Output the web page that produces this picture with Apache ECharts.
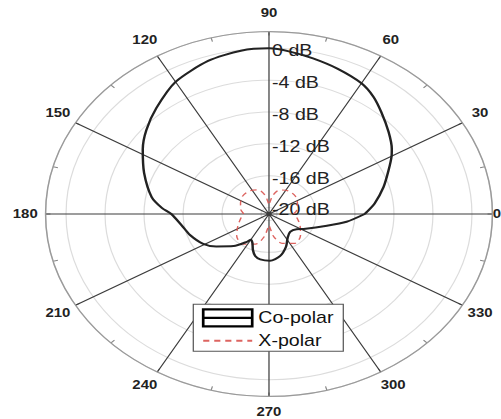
<!DOCTYPE html>
<html><head><meta charset="utf-8">
<script src="https://cdn.jsdelivr.net/npm/echarts@6/dist/echarts.min.js"></script>
<style>
html,body{margin:0;padding:0;background:#fff;overflow:hidden;}
#wrap{width:501px;height:419px;position:relative;overflow:hidden;background:#fff;}
#main{position:absolute;left:0;top:0;width:409px;height:419px;transform-origin:0 0;transform:scaleX(1.2249);}
</style></head><body><div id="wrap"><div id="main"></div></div>
<script>
// ---- data ----
const angleTicks = [0,30,60,90,120,150,180,210,240,270,300,330];
const dbTicks = [0,-4,-8,-12,-16,-20];
const coAngles = [0,7,16,24,30,33,40,48,54,60,69,77,84,90,98,108,120,131,140,148,158,170,176,180,189,198,209,217,228,237,240,245,250,255,261,271,282,293,303,314,326,332,346,353,360];
const coDb     = [-11.0,-9.9,-8.6,-7.4,-6.3,-5.8,-4.8,-3.6,-2.6,-1.85,-1.25,-0.75,-0.3,0,-0.1,-0.6,-1.65,-3.2,-4.4,-5.55,-7.0,-8.6,-9.8,-10.8,-11.75,-12.3,-13.1,-14.05,-15.4,-16.65,-17.1,-16.8,-16.0,-15.35,-15.05,-14.95,-15.4,-16.35,-17.3,-17.7,-17.4,-16.8,-14.7,-12.8,-11.0];
const xAngles = [0,10,25,40,55,70,80,86,90,94,100,110,125,140,155,170,180,190,205,220,235,250,260,266,270,274,280,290,305,320,335,350,360];
const xDb     = [-18.3,-17.9,-17.6,-17.3,-17.3,-17.6,-18.4,-19.3,-19.7,-19.3,-18.4,-17.6,-17.3,-17.3,-17.6,-17.9,-18.2,-17.9,-17.3,-16.5,-16.2,-16.8,-17.9,-19.0,-19.4,-19.0,-17.9,-16.9,-16.3,-16.6,-17.3,-17.9,-18.3];
const seriesNames = ['Co-polar','X-polar'];

// ---- layout / style ----
const CX = 219.6, CY = 214, R = 182.4, RIN = 6.5;
const FONT = 'Liberation Sans, Arial, sans-serif';
const M = 0, RTH = 199, RTV_UP = 201.5, RTV_DN = 198, LH = 12, DW = 6.8;
const rich = {};
angleTicks.forEach(a => {
  const t = a*Math.PI/180, cs = Math.cos(t), sn = Math.sin(t);
  const rtv = sn > 0 ? RTV_UP : RTV_DN;
  const Ax = (R+M)*cs, Ay = -(R+M)*sn, cx = RTH*cs, cy = -rtv*sn;
  const w = String(a).length*DW;
  const hal = Math.abs(Ax)/R < 0.3 ? 'center' : (Ax>0?'left':'right');
  const val = Math.abs(Ay)/R < 0.3 ? 'middle' : (Ay>0?'top':'bottom');
  let pt=0,pr=0,pb=0,pl=0;
  if (hal==='left') pl = Math.max(0, cx - w/2 - Ax);
  if (hal==='right') pr = Math.max(0, Ax - w/2 - cx);
  // vertical token padding is split around the centred text, so it is doubled
  if (val==='bottom') pb = 2*Math.max(0, Ay - LH/2 - cy);
  if (val==='top') pt = 2*Math.max(0, cy - LH/2 - Ay);
  if (a === 0) { pl = 0.3; }
  rich['a'+a] = {padding:[pt,pr,pb,pl], fontSize:12.2, fontWeight:'bold', fontFamily:FONT, color:'#222', lineHeight:LH};
});

const coData = coAngles.map((a,i)=>[coDb[i], a]);
const xData = xAngles.map((a,i)=>[xDb[i], a]);

const chart = echarts.init(document.getElementById('main'), null, {renderer:'svg'});
chart.setOption({
  animation:false,
  backgroundColor:'#fff',
  polar:[
    {center:[CX,CY], radius:[0,R]},
    {center:[CX,CY], radius:[RIN,R]},
    {center:[CX,CY+2.5], radius:[RIN,R]}
  ],
  angleAxis:[
    {polarIndex:0, type:'value', min:0, max:360, interval:30, startAngle:0, clockwise:false, z:2,
     axisLine:{show:true, lineStyle:{color:'#9a9a9a', width:1.2}},
     axisTick:{show:true, inside:true, length:4, lineStyle:{color:'#888'}},
     minorTick:{show:true, splitNumber:2, length:4, lineStyle:{color:'#888'}},
     splitLine:{show:true, lineStyle:{color:'#3c3c3c', width:1}},
     axisLabel:{show:true, margin:M, formatter: v => '{a'+v+'|'+v+'}', rich: rich}
    },
    {polarIndex:1, type:'value', min:0, max:360, startAngle:0, clockwise:false, show:false},
    {polarIndex:2, type:'value', min:0, max:360, startAngle:90, clockwise:false, show:false}
  ],
  radiusAxis:[
    {polarIndex:0, type:'value', min:-20.82, max:2.1, show:false},
    {polarIndex:1, type:'value', min:-20, max:2.1, interval:4, z:0,
     axisLine:{show:false}, axisTick:{show:false}, axisLabel:{show:false},
     splitLine:{show:true, lineStyle:{color:'#dcdcdc', width:1}}},
    {polarIndex:2, type:'value', min:-20, max:2.1, interval:4, z:3,
     axisLine:{show:false}, axisTick:{show:false}, splitLine:{show:false},
     axisLabel:{show:true, inside:true, margin:-2.5, align:'left', fontSize:16, fontFamily:FONT, color:'#222',
       formatter: v => (dbTicks.indexOf(Math.round(v))>=0 && Math.abs(v-Math.round(v))<1e-6) ? (Math.round(v)+' dB') : ''}}
  ],
  legend:{
    orient:'vertical', left:157.8, top:304.3, itemWidth:40, itemHeight:17, itemGap:4.8,
    padding:[4,8,2,7], backgroundColor:'#fff', borderColor:'#555', borderWidth:1, borderRadius:0,
    textStyle:{fontSize:16, fontFamily:FONT, color:'#111', lineHeight:17},
    data:[
      {name:seriesNames[0], icon:'path://M0,0L40,0L40,17L0,17Z M0,8.5L40,8.5',
       itemStyle:{color:'#fff', borderColor:'#000', borderWidth:2.2}},
      {name:seriesNames[1], itemStyle:{color:'rgba(0,0,0,0)', borderWidth:0, opacity:0}}
    ]
  },
  series:[
    {name:seriesNames[0], type:'line', coordinateSystem:'polar', polarIndex:0, data:coData,
     symbol:'none', smooth:0.25, z:5, lineStyle:{color:'#222', width:2}, itemStyle:{color:'#222'}},
    {name:seriesNames[1], type:'line', coordinateSystem:'polar', polarIndex:0, data:xData,
     symbol:'none', smooth:0.3, z:4, lineStyle:{color:'#d9534f', width:1.2, type:[5,4], opacity:0.9}, itemStyle:{color:'#d9534f'}}
  ]
});
</script></body></html>
